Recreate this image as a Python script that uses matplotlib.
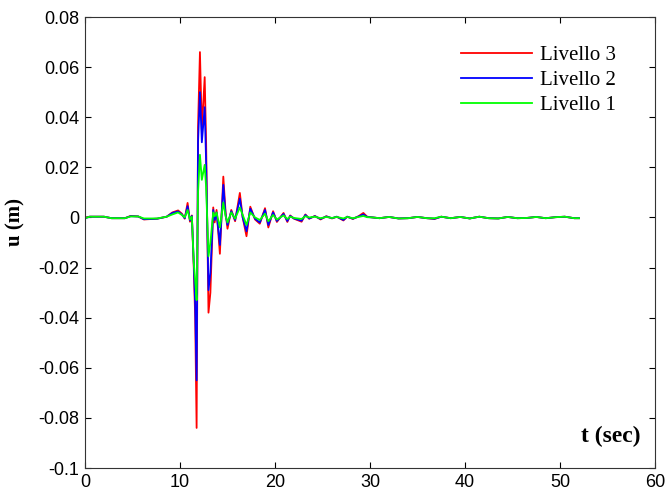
import matplotlib
matplotlib.use('Agg')
import matplotlib.pyplot as plt

# time (sec) and displacement (m) of the three levels
t = [0.0, 0.5, 2.0, 2.8, 4.2, 4.8, 5.6, 6.2, 7.6, 8.6, 9.2, 9.8, 10.2, 10.5,
     10.8, 11.05, 11.25, 11.45, 11.6, 11.75, 11.9, 12.1, 12.3, 12.6, 12.75,
     13.0, 13.2, 13.5, 13.65, 13.85, 14.2, 14.56, 14.8, 15.0, 15.4, 15.8,
     16.3, 16.6, 17.0, 17.4, 17.9, 18.4, 18.95, 19.3, 19.8, 20.2, 20.9, 21.3,
     21.6, 22.0, 22.8, 23.2, 23.6, 24.2, 24.8, 25.4, 26.0, 26.5, 27.2, 27.6,
     28.2, 28.8, 29.3, 29.7, 30.3, 31.0, 32.0, 33.0, 34.0, 35.0, 36.0, 36.8,
     37.5, 38.5, 39.5, 40.5, 41.5, 42.5, 43.5, 44.5, 45.5, 46.5, 47.5, 48.5,
     49.5, 50.5, 51.5, 52.0]

livello3 = [0.0, 0.0003, 0.0003, -0.0003, -0.0003, 0.0006, 0.0004, -0.0008,
            -0.0005, 0.0003, 0.002, 0.0028, 0.0015, -0.0005, 0.0058, -0.0017,
            0.0008, -0.02, -0.04, -0.084, 0.036, 0.066, 0.035, 0.056, 0.03,
            -0.038, -0.03, 0.004, -0.002, 0.003, -0.0145, 0.0163, 0.002,
            -0.0045, 0.003, -0.0015, 0.0098, 0.0, -0.0075, 0.0043, -0.0008,
            -0.0025, 0.0037, -0.004, 0.0025, -0.0018, 0.0018, -0.0018, 0.0008,
            -0.0005, -0.0017, 0.0012, -0.0005, 0.0006, -0.0008, 0.0005,
            -0.0004, 0.0003, -0.0012, 0.0003, -0.0006, 0.0005, 0.0018, 0.0003,
            0.0, -0.0003, 0.0002, -0.0004, -0.0003, 0.0002, -0.0003, -0.0006,
            0.0003, -0.0003, 0.0002, -0.0004, 0.0003, -0.0003, -0.0004, 0.0002,
            -0.0003, -0.0002, 0.0002, -0.0003, 0.0001, 0.0003, -0.0003, -0.0003]

livello2 = [-0.0003, 0.0003, 0.0003, -0.0003, -0.0003, 0.0005, 0.0004, -0.0007,
            -0.0005, 0.0003, 0.0018, 0.0024, 0.0012, -0.0003, 0.0045, -0.0012,
            0.0006, -0.018, -0.035, -0.065, 0.03, 0.05, 0.03, 0.044, 0.022,
            -0.029, -0.022, 0.003, -0.001, 0.002, -0.011, 0.013, 0.001,
            -0.003, 0.0025, -0.001, 0.0075, 0.0, -0.0055, 0.0035, -0.0005,
            -0.002, 0.003, -0.003, 0.002, -0.0014, 0.0014, -0.0014, 0.0006,
            -0.0004, -0.0013, 0.001, -0.0004, 0.0005, -0.0006, 0.0004,
            -0.0003, 0.0003, -0.001, 0.0003, -0.0005, 0.0004, 0.0012, 0.0002,
            0.0, -0.0003, 0.0002, -0.0004, -0.0003, 0.0002, -0.0003, -0.0005,
            0.0003, -0.0003, 0.0002, -0.0004, 0.0003, -0.0003, -0.0004, 0.0002,
            -0.0003, -0.0002, 0.0002, -0.0003, 0.0001, 0.0003, -0.0003, -0.0003]

livello1 = [-0.0003, 0.0003, 0.0003, -0.0003, -0.0003, 0.0004, 0.0004, -0.0004,
            -0.0004, 0.0003, 0.0012, 0.002, 0.001, 0.0, 0.003, -0.0008,
            0.0003, -0.018, -0.025, -0.033, 0.01, 0.025, 0.015, 0.021, 0.012,
            -0.0155, -0.01, 0.002, 0.0005, 0.002, -0.004, 0.006, 0.0005,
            -0.002, 0.002, -0.0005, 0.004, 0.001, -0.003, 0.002, 0.0,
            -0.001, 0.0015, -0.0015, 0.001, -0.0008, 0.0008, -0.0006, 0.0003,
            -0.0002, -0.0006, 0.0005, 0.0, 0.0003, -0.0003, 0.0002,
            -0.0002, 0.0002, -0.0004, 0.0002, -0.0003, 0.0002, 0.0006, 0.0001,
            0.0, -0.0003, 0.0002, -0.0004, -0.0003, 0.0002, -0.0003, -0.0003,
            0.0003, -0.0003, 0.0002, -0.0004, 0.0003, -0.0003, -0.0004, 0.0002,
            -0.0003, -0.0002, 0.0002, -0.0003, 0.0001, 0.0003, -0.0003, -0.0003]

yticks = [-0.1, -0.08, -0.06, -0.04, -0.02, 0, 0.02, 0.04, 0.06, 0.08]
ylabels = ['-0.1', '-0.08', '-0.06', '-0.04', '-0.02', '0',
           '0.02', '0.04', '0.06', '0.08']
xticks = [0, 10, 20, 30, 40, 50, 60]

fig = plt.figure(figsize=(6.66, 4.93), dpi=100)
ax = fig.add_axes([0.1276, 0.0507, 0.8559, 0.9148])

ax.plot(t, livello3, color='#ff0000', lw=1.3, label='Livello 3')
ax.plot(t, livello2, color='#0000ff', lw=1.3, label='Livello 2')
ax.plot(t, livello1, color='#00ff00', lw=1.3, label='Livello 1')

ax.set_xlim(0, 60)
ax.set_ylim(-0.1, 0.08)
ax.set_xticks(xticks)
ax.set_xticklabels([str(v) for v in xticks])
ax.set_yticks(yticks)
ax.set_yticklabels(ylabels)
ax.tick_params(direction='in', length=4, top=True, right=True,
               labelsize=13, pad=4)
for lab in ax.get_xticklabels() + ax.get_yticklabels():
    lab.set_family('Liberation Sans')
for sp in ax.spines.values():
    sp.set_color('#333333')

ax.set_ylabel('u (m)', family='Liberation Serif', fontweight='bold', fontsize=15)
ax.yaxis.set_label_coords(-0.1035, 0.545)
ax.text(0.975, 0.069, 't (sec)', transform=ax.transAxes, ha='right',
        va='center', family='Liberation Serif', fontweight='bold', fontsize=17)

ax.legend(loc='upper right', bbox_to_anchor=(0.965, 0.978), frameon=False,
          prop={'family': 'Liberation Serif', 'size': 15}, handlelength=3.4,
          handletextpad=0.4, labelspacing=0.25)

fig.savefig('out.png', dpi=100)
